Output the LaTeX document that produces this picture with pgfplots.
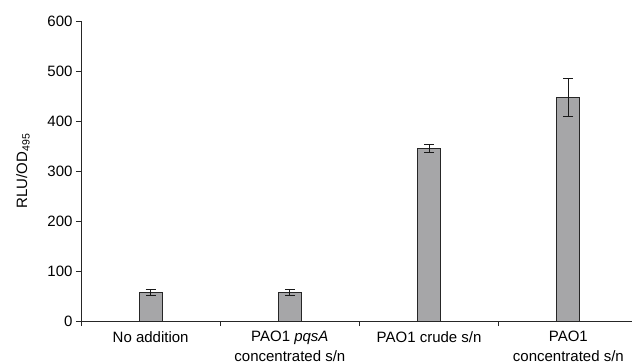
\documentclass[border=0pt]{standalone}
\usepackage{pgfplots}
\pgfplotsset{compat=1.18}
\usepackage{fontspec}
\setmainfont{Liberation Sans}
\definecolor{barfill}{RGB}{166,166,168}
\begin{document}
\begin{tikzpicture}
\begin{axis}[
  at={(0,0)}, anchor=south west,
  scale only axis,
  width=557bp, height=300bp,
  xmin=-0.5, xmax=3.5, ymin=0, ymax=600,
  axis x line=bottom, axis y line=left,
  axis line style={-, line width=0.7pt, black!85},
  tick align=outside,
  major tick length=5bp,
  tick style={black!85, line width=0.7pt},
  ytick={0,100,...,600},
  xtick={-0.5,0.5,1.5,2.5,3.5},
  x tick label as interval,
  xticklabels={No addition, PAO1 \textit{pqsA}\\concentrated s/n, PAO1 crude s/n, PAO1\\concentrated s/n},
  xticklabel style={align=center, font=\fontsize{15bp}{20bp}\selectfont, yshift=-2bp},
  yticklabel style={font=\fontsize{15bp}{16bp}\selectfont},
  /pgf/number format/assume math mode=true,
  ylabel={RLU/OD\textsubscript{495}},
  ylabel style={font=\fontsize{15bp}{16bp}\selectfont},
  ylabel shift=11bp,
  ybar, bar width=23bp,
  clip=false,
]
\addplot[fill=barfill, draw=black!85, line width=0.8pt,
  error bars/.cd, y dir=both, y explicit,
  error bar style={black!90, line width=0.8pt},
  error mark options={rotate=90, mark size=5bp, black!90, line width=0.8pt}]
  coordinates {
  (0,57) +- (0,6)
  (1,58) +- (0,6)
  (2,346) +- (0,8)
  (3,447) +- (0,38.5)
};
\end{axis}
\pgfresetboundingbox
\path[use as bounding box] (-81bp,-43bp) rectangle (551bp,321bp);
\end{tikzpicture}
\end{document}
